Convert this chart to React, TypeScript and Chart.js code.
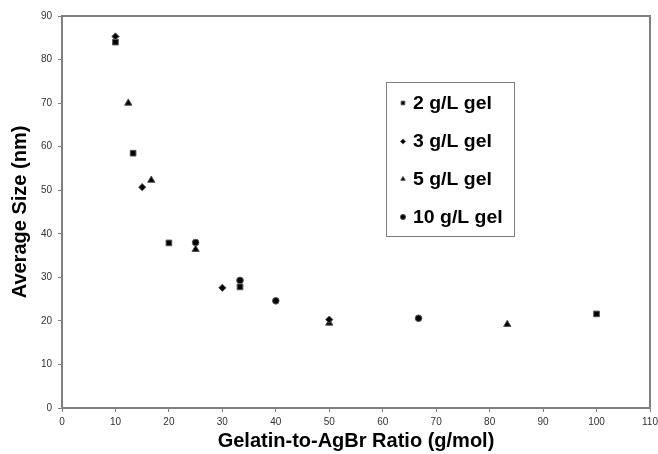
import React, { useEffect, useRef } from "react";
import { Chart, registerables } from "chart.js";

Chart.register(...registerables);

const seriesLabels = ["2 g/L gel", "3 g/L gel", "5 g/L gel", "10 g/L gel"];
const pointStyles = ["rect", "rectRot", "triangle", "circle"];
const pointRadii = [4, 3.6, 4.2, 3.3];

const x2 = [10, 13.3, 20, 33.3, 100];
const y2 = [84, 58.5, 37.9, 27.8, 21.6];
const x3 = [10, 15, 30, 50];
const y3 = [85.3, 50.7, 27.6, 20.3];
const x5 = [12.4, 16.7, 25, 50, 83.3];
const y5 = [70, 52.3, 36.4, 19.5, 19.2];
const x10 = [25, 33.3, 40, 66.7];
const y10 = [38, 29.3, 24.6, 20.6];

const xTicks = [0, 10, 20, 30, 40, 50, 60, 70, 80, 90, 100, 110];
const yTicks = [0, 10, 20, 30, 40, 50, 60, 70, 80, 90];

const FONT = "'Liberation Sans', Arial, sans-serif";

function pts(xs: number[], ys: number[]) {
  return xs.map((x, i) => ({ x, y: ys[i] }));
}

function drawMarker(ctx: CanvasRenderingContext2D, style: string, x: number, y: number, r: number) {
  ctx.beginPath();
  if (style === "rect") {
    const s = Math.SQRT1_2 * r;
    ctx.rect(x - s, y - s, 2 * s, 2 * s);
  } else if (style === "rectRot") {
    ctx.moveTo(x, y - r);
    ctx.lineTo(x + r, y);
    ctx.lineTo(x, y + r);
    ctx.lineTo(x - r, y);
    ctx.closePath();
  } else if (style === "triangle") {
    ctx.moveTo(x, y - r);
    ctx.lineTo(x + r * 0.866, y + r * 0.5);
    ctx.lineTo(x - r * 0.866, y + r * 0.5);
    ctx.closePath();
  } else {
    ctx.arc(x, y, r, 0, Math.PI * 2);
  }
  ctx.fill();
  ctx.stroke();
}

const framePlugin = {
  id: "frame",
  afterDraw(chart: any) {
    const { ctx, chartArea } = chart;
    ctx.save();
    ctx.strokeStyle = "#808080";
    ctx.lineWidth = 2;
    ctx.strokeRect(chartArea.left, chartArea.top, chartArea.right - chartArea.left, chartArea.bottom - chartArea.top);
    // legend box
    const bx = 386, by = 82, bw = 128, bh = 154;
    ctx.fillStyle = "#ffffff";
    ctx.fillRect(bx, by, bw, bh);
    ctx.lineWidth = 1;
    ctx.strokeStyle = "#808080";
    ctx.strokeRect(bx + 0.5, by + 0.5, bw, bh);
    const rowY = [103, 141.5, 179, 217];
    chart.data.datasets.forEach((ds: any, i: number) => {
      ctx.fillStyle = "#000";
      ctx.strokeStyle = "#555";
      ctx.lineWidth = 1;
      drawMarker(ctx, pointStyles[i], 403, rowY[i], 2.6);
      ctx.save();
      ctx.translate(413, rowY[i] + 1);
      ctx.scale(1.08, 1);
      ctx.font = `bold 18px ${FONT}`;
      ctx.textBaseline = "middle";
      ctx.textAlign = "left";
      ctx.fillStyle = "#000";
      ctx.fillText(ds.label, 0, 0);
      ctx.restore();
    });
    ctx.restore();
  },
};

export default function App() {
  const ref = useRef<HTMLCanvasElement>(null);
  useEffect(() => {
    document.body.style.margin = "0";
    const data = [pts(x2, y2), pts(x3, y3), pts(x5, y5), pts(x10, y10)];
    const chart = new Chart(ref.current!, {
      type: "scatter",
      data: {
        datasets: seriesLabels.map((label, i) => ({
          label,
          data: data[i],
          pointStyle: pointStyles[i] as any,
          pointRadius: pointRadii[i],
          backgroundColor: "#000000",
          borderColor: "#555555",
          borderWidth: 1,
        })),
      },
      options: {
        animation: false,
        responsive: false,
        events: [],
        layout: { padding: { left: 0, top: 16, right: 8, bottom: 0 } },
        plugins: { legend: { display: false }, tooltip: { enabled: false } },
        scales: {
          x: {
            type: "linear",
            min: 0,
            max: 110,
            afterBuildTicks: (s: any) => {
              s.ticks = xTicks.map((v) => ({ value: v }));
            },
            afterFit: (s: any) => {
              s.height = 46;
              s.paddingRight = 0;
              s.paddingLeft = 0;
            },
            grid: { display: true, drawOnChartArea: false, drawTicks: true, tickLength: 4, color: "#808080" },
            border: { display: true, color: "#808080", width: 2 },
            ticks: { color: "#333", font: { family: FONT, size: 10 }, padding: 4, maxRotation: 0 },
            title: {
              display: true,
              text: "Gelatin-to-AgBr Ratio (g/mol)",
              color: "#000",
              font: { family: FONT, size: 20, weight: "bold" },
              padding: { top: 0, bottom: 1 },
            },
          },
          y: {
            type: "linear",
            min: 0,
            max: 90,
            afterBuildTicks: (s: any) => {
              s.ticks = yTicks.map((v) => ({ value: v }));
            },
            afterFit: (s: any) => {
              s.width = 62;
              s.paddingTop = 0;
              s.paddingBottom = 0;
            },
            grid: { display: true, drawOnChartArea: false, drawTicks: true, tickLength: 4, color: "#808080" },
            border: { display: true, color: "#808080", width: 2 },
            ticks: { color: "#333", font: { family: FONT, size: 10 }, padding: 6 },
            title: {
              display: true,
              text: "Average Size (nm)",
              color: "#000",
              font: { family: FONT, size: 20, weight: "bold" },
              padding: { top: 8, bottom: 0 },
            },
          },
        },
      },
      plugins: [framePlugin],
    });
    return () => chart.destroy();
  }, []);
  return (
    <div style={{ position: "absolute", left: 0, top: 0, width: 658, height: 454, background: "#fff" }}>
      <canvas ref={ref} width={658} height={454} />
    </div>
  );
}
